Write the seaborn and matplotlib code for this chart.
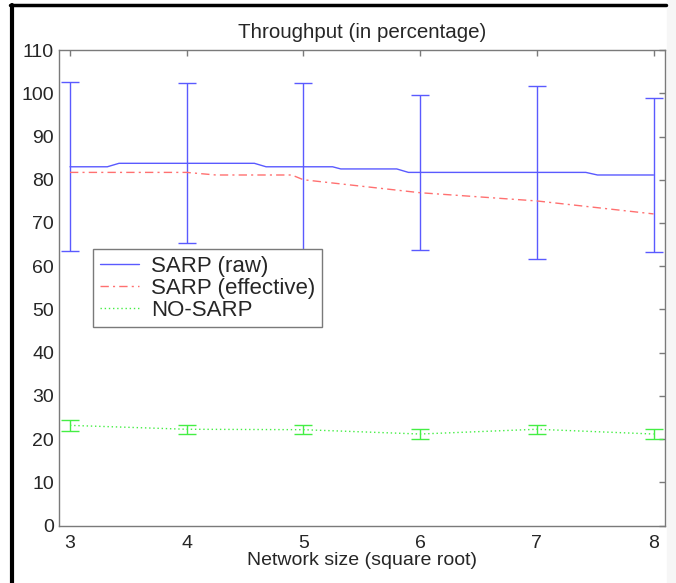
import matplotlib
matplotlib.use("Agg")
import matplotlib.pyplot as plt
from matplotlib.lines import Line2D
from matplotlib.patches import Rectangle
import seaborn as sns

# network size (square root) where the error bars are measured
net_size = [3, 4, 5, 6, 7, 8]

# SARP (raw): means and half-widths of the error bars
raw_mean = [83.0, 83.8, 83.0, 81.7, 81.7, 81.1]
raw_err = [19.5, 18.5, 19.4, 18.0, 20.0, 17.8]

# the raw curve has a few extra vertices between the measured sizes
raw_curve_x = [3, 3.32, 3.42, 4.0, 4.58, 4.68, 5.0, 5.25, 5.32, 5.8, 5.9, 7.0, 7.42, 7.52, 8]
raw_curve_y = [83.0, 83.0, 83.8, 83.8, 83.8, 83.0, 83.0, 83.0, 82.5, 82.5, 81.7, 81.7, 81.7, 81.1, 81.1]

# SARP (effective)
eff_curve_x = [3, 4, 4.25, 4.9, 5, 6, 7, 8]
eff_curve_y = [81.7, 81.7, 81.1, 81.1, 80.0, 77.0, 75.1, 72.1]

# NO-SARP
nosarp_mean = [23.2, 22.3, 22.2, 21.2, 22.3, 21.2]
nosarp_err = [1.3, 1.1, 1.1, 1.1, 1.1, 1.1]

blue = "#5a5aff"
red = "#ff7070"
green = "#44ee44"
txt = "#262626"
dashdot = (0, (6, 3, 1.5, 3))
dotted = (0, (1, 2))

sns.set_theme(style="white")
plt.rcParams["font.family"] = ["Liberation Sans", "DejaVu Sans"]

fig = plt.figure(figsize=(6.76, 5.83), dpi=100)
ax = fig.add_axes([0.088, 0.0983, 0.8955, 0.8159])

# error bars first, lines on top
ax.errorbar(net_size, raw_mean, yerr=raw_err, fmt="none", ecolor=blue,
            elinewidth=1.0, capsize=6.5, capthick=1.0)
ax.errorbar(net_size, nosarp_mean, yerr=nosarp_err, fmt="none", ecolor=green,
            elinewidth=1.0, capsize=6.5, capthick=1.0)

sns.lineplot(x=raw_curve_x, y=raw_curve_y, ax=ax, color=blue, lw=1.0,
             estimator=None, sort=False)
sns.lineplot(x=eff_curve_x, y=eff_curve_y, ax=ax, color=red, lw=1.0,
             estimator=None, sort=False)
ax.lines[-1].set_linestyle(dashdot)
sns.lineplot(x=net_size, y=nosarp_mean, ax=ax, color=green, lw=1.0,
             estimator=None, sort=False)
ax.lines[-1].set_linestyle(dotted)

ax.set_xlim(2.91, 8.097)
ax.set_ylim(0, 110)
ax.set_xticks(net_size)
ax.set_yticks(range(0, 111, 10))

for side in ax.spines.values():
    side.set_color("#7a7a7a")
    side.set_linewidth(1.0)
ax.tick_params(direction="in", length=4, width=1.0, color="#7a7a7a",
               top=True, right=True, labelsize=14, labelcolor=txt)
ax.tick_params(axis="x", pad=7)
ax.tick_params(axis="y", pad=4)

ax.set_title("Throughput (in percentage)", fontsize=14.8, color=txt, pad=9)
ax.set_xlabel("Network size (square root)", fontsize=14, color=txt, labelpad=0)
ax.set_ylabel("")

handles = [
    Line2D([], [], color=blue, lw=1.0),
    Line2D([], [], color=red, lw=1.0, linestyle=dashdot),
    Line2D([], [], color=green, lw=1.0, linestyle=dotted),
]
leg = ax.legend(handles, ["SARP (raw)", "SARP (effective)", "NO-SARP"],
                loc="upper left", bbox_to_anchor=(0.0553, 0.582),
                fontsize=16, frameon=True, fancybox=False, framealpha=1,
                borderaxespad=0, handlelength=1.75, handletextpad=0.55,
                labelspacing=0.05, borderpad=0.3, labelcolor=txt)
leg.get_frame().set_edgecolor("#7a7a7a")
leg.get_frame().set_linewidth(1.0)

# light strip on the right edge and black frame on top and left
fig.add_artist(Rectangle((0.987, 0), 0.013, 1, color="#f6f6f6",
                         transform=fig.transFigure, zorder=-1))
fig.add_artist(Line2D([0.0155, 0.985], [0.9915, 0.9915], color="black", lw=2.5,
                      transform=fig.transFigure))
fig.add_artist(Line2D([0.0178, 0.0178], [0.0, 0.9915], color="black", lw=3.0,
                      transform=fig.transFigure))

fig.savefig("out.png", dpi=100)
